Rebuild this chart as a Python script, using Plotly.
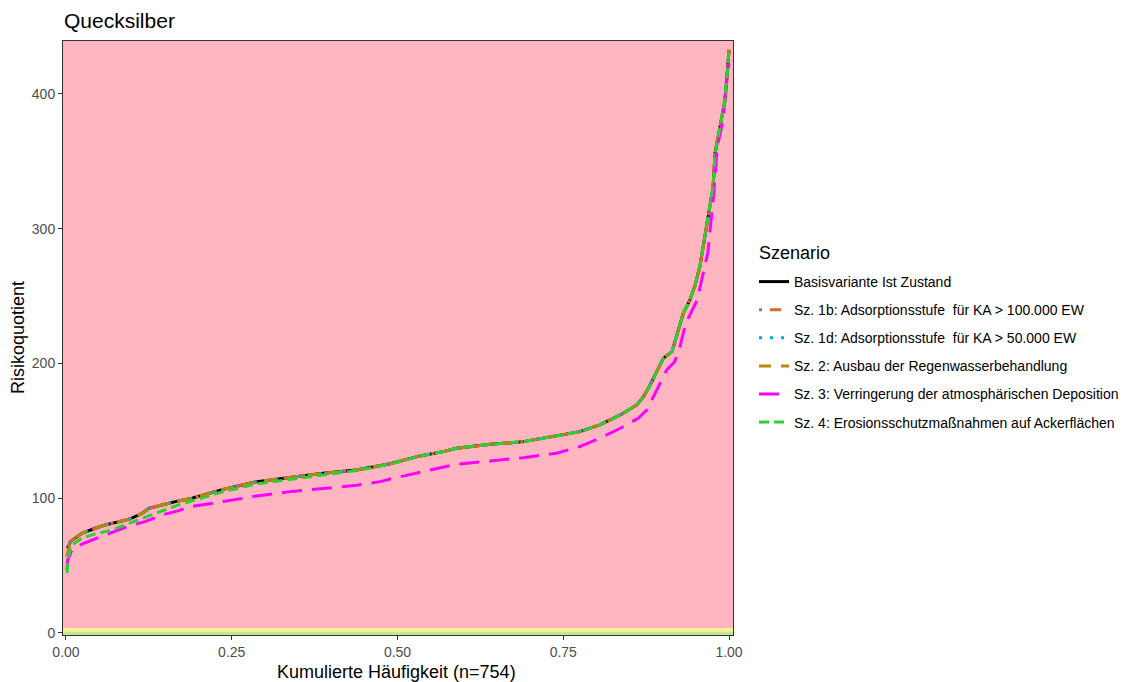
import plotly.graph_objects as go

# ---- data (x = cumulative frequency, y = risk quotient) ----
x_main = [0.0015, 0.004, 0.0065, 0.014, 0.024, 0.044, 0.059, 0.074, 0.095, 0.115, 0.125,
          0.145, 0.165, 0.19, 0.237, 0.288, 0.338, 0.388, 0.438, 0.489, 0.534, 0.569, 0.589,
          0.64, 0.69, 0.74, 0.775, 0.805, 0.836, 0.861, 0.871, 0.881, 0.891, 0.901, 0.914,
          0.924, 0.931, 0.941, 0.949, 0.956, 0.961, 0.966, 0.971, 0.976, 0.979, 0.984, 0.989,
          0.994, 0.9965, 1.0]
basis = [63, 64, 67.8, 70.3, 74, 77.7, 80.1, 81.9, 84.4, 88.8, 92.5,
         95, 97.5, 100, 106.6, 112.3, 115.5, 118.5, 121, 125.6, 131.4, 134.6, 137.1,
         140, 142, 146.2, 149.4, 154.4, 161.8, 169.2, 175.4, 184, 194, 203.9, 208.8,
         224.9, 237.2, 247.1, 258.3, 271.8, 286.7, 301.5, 316.4, 331.2, 356, 368.3, 382,
         395.5, 410.4, 432.7]
sz1b = [56.6, 64, 67.8, 70.3, 74, 77.7, 80.1, 81.9, 84.4, 88.8, 92.5,
        95, 97.5, 100, 106.6, 112.3, 115.5, 118.5, 121, 125.6, 131.4, 134.6, 137.1,
        140, 142, 146.2, 149.4, 154.4, 161.8, 169.2, 175.4, 184, 194, 203.9, 208.8,
        224.9, 237.2, 247.1, 258.3, 271.8, 286.7, 301.5, 316.4, 331.2, 356, 368.3, 382,
        395.5, 410.4, 432.7]
sz1d = [57, 64, 67.8, 70.3, 74, 77.7, 80.1, 81.9, 84.4, 88.8, 92.5,
        95, 97.5, 100, 106.6, 112.3, 115.5, 118.5, 121, 125.6, 131.4, 134.6, 137.1,
        140, 142, 146.2, 149.4, 154.4, 161.8, 169.2, 175.4, 184, 194, 203.9, 208.8,
        224.9, 237.2, 247.1, 258.3, 271.8, 286.7, 301.5, 316.4, 331.2, 356, 368.3, 382,
        395.5, 410.4, 432.7]
sz2 = [57, 64, 67.8, 70.3, 74, 77.7, 80.1, 81.9, 84.4, 88.8, 92.5,
       95, 97.5, 100, 106.6, 112.3, 115.5, 118.5, 121, 125.6, 131.4, 134.6, 137.1,
       140, 142, 146.2, 149.4, 154.4, 161.8, 169.2, 175.4, 184, 194, 203.9, 208.8,
       224.9, 237.2, 247.1, 258.3, 271.8, 286.7, 301.5, 316.4, 331.2, 356, 368.3, 382,
       395.5, 410.4, 432.7]

x_sz3 = [0.0015, 0.0025, 0.009, 0.024, 0.044, 0.069, 0.095, 0.119, 0.145, 0.17, 0.187,
         0.237, 0.288, 0.338, 0.388, 0.438, 0.474, 0.489, 0.538, 0.589, 0.64, 0.69, 0.74,
         0.775, 0.805, 0.836, 0.863, 0.876, 0.886, 0.896, 0.906, 0.918, 0.926, 0.935,
         0.952, 0.956, 0.968, 0.977, 0.982, 0.991, 0.997, 1.0]
sz3 = [46.8, 54, 61.6, 66, 69.8, 74.5, 79.4, 82.6, 87.6, 90.8, 93.7,
       97.5, 101.7, 104.9, 107.4, 109.6, 112.3, 114.3, 119.7, 125.2, 127.6, 130.1, 133.4,
       138.3, 144.5, 151.9, 159.3, 165.5, 175.4, 185.3, 195.2, 201.3, 212.5, 230,
       247, 256, 282, 326, 360, 381, 415, 423]

x_sz4 = [0.0015, 0.004, 0.009, 0.024, 0.044, 0.069, 0.095, 0.119, 0.145, 0.17, 0.19,
         0.237, 0.288, 0.338, 0.388, 0.438, 0.489, 0.534, 0.569, 0.589,
         0.64, 0.69, 0.74, 0.775, 0.805, 0.836, 0.861, 0.871, 0.881, 0.891, 0.901, 0.914,
         0.924, 0.931, 0.941, 0.949, 0.956, 0.961, 0.966, 0.971, 0.976, 0.979, 0.984, 0.989,
         0.994, 0.9965, 1.0]
sz4 = [44.5, 57.9, 65.3, 70.3, 73.5, 76.4, 81.4, 85.9, 90.8, 95, 98,
       104.8, 110.6, 114, 117.5, 120.5, 125.3, 131.4, 134.6, 137.1,
       140, 142, 146.2, 149.4, 154.4, 161.8, 169.2, 175.4, 184, 194, 203.9, 208.8,
       224.9, 237.2, 247.1, 258.3, 271.8, 286.7, 301.5, 316.4, 331.2, 356, 368.3, 382,
       395.5, 410.4, 432.7]

names = ["Basisvariante Ist Zustand",
         "Sz. 1b: Adsorptionsstufe  für KA > 100.000 EW",
         "Sz. 1d: Adsorptionsstufe  für KA > 50.000 EW",
         "Sz. 2: Ausbau der Regenwasserbehandlung",
         "Sz. 3: Verringerung der atmosphärischen Deposition",
         "Sz. 4: Erosionsschutzmaßnahmen auf Ackerflächen"]
colors = ["#000000", "#D9692A", "#00A9E0", "#B8860B", "#FF00FF", "#32CD32"]
dashes = ["solid", "3px,8px,11px,8px", "3px,8px", "12px,10px", "20px,10px", "10px,5px"]

x_ticks = [0, 0.25, 0.5, 0.75, 1.0]
x_ticklabels = ["0.00", "0.25", "0.50", "0.75", "1.00"]
y_ticks = [0, 100, 200, 300, 400]

series = [(x_main, basis), (x_main, sz1b), (x_main, sz1d), (x_main, sz2),
          (x_sz3, sz3), (x_sz4, sz4)]

fig = go.Figure()
for i, ((xs, ys), nm, col, ds) in enumerate(zip(series, names, colors, dashes)):
    fig.add_trace(go.Scatter(x=xs, y=ys, mode="lines", name=nm,
                             legendgroup=f"g{i}",
                             line=dict(color=col, width=3, dash=ds)))

# background bands
fig.add_shape(type="rect", xref="paper", yref="y", x0=0, x1=1, y0=-10, y1=1,
              fillcolor="#BDEA92", line_width=0, layer="below")
fig.add_shape(type="rect", xref="paper", yref="y", x0=0, x1=1, y0=1, y1=3.8,
              fillcolor="#F6F294", line_width=0, layer="below")
fig.add_shape(type="rect", xref="paper", yref="y", x0=0, x1=1, y0=3.8, y1=1000,
              fillcolor="#FFB6C1", line_width=0, layer="below")

font_family = "Liberation Sans, Arial, sans-serif"
PW, PH = 670, 594  # plot area size in px
L, T = 63, 41

fig.update_layout(
    width=1128, height=682,
    margin=dict(l=L, r=1128 - L - PW, t=T, b=682 - T - PH, autoexpand=False),
    paper_bgcolor="white", plot_bgcolor="#FFB6C1",
    font=dict(family=font_family, color="black"),
    title=dict(text="Quecksilber", x=64/1128, xref="container", xanchor="left",
               y=1 - 21/682, yref="container", yanchor="middle",
               font=dict(size=21, color="black")),
    xaxis=dict(range=[-0.0045, 1.006], tickvals=x_ticks, ticktext=x_ticklabels,
               showgrid=False, zeroline=False, showline=True, mirror=True,
               linecolor="#333333", linewidth=1, ticks="outside", ticklen=4,
               tickcolor="#333333", tickfont=dict(size=14, color="#4D4D4D")),
    yaxis=dict(range=[-1.5, 439.3], tickvals=y_ticks,
               showgrid=False, zeroline=False, showline=True, mirror=True,
               linecolor="#333333", linewidth=1, ticks="outside", ticklen=4,
               tickcolor="#333333", tickfont=dict(size=14, color="#4D4D4D")),
    legend=dict(font=dict(size=14, color="black"),
                x=(754 - L) / PW, xanchor="left", y=1 - (266 - T) / PH, yanchor="top",
                traceorder="grouped", tracegroupgap=6.9,
                bgcolor="rgba(0,0,0,0)"),
    showlegend=True,
)

fig.add_annotation(text="Szenario", xref="paper", yref="paper",
                   x=(757 - L) / PW, y=1 - (253 - T) / PH, showarrow=False,
                   font=dict(size=18, color="black"), xanchor="left", yanchor="middle")
fig.add_annotation(text="Risikoquotient", xref="paper", yref="paper",
                   x=(18 - L) / PW, y=1 - (338 - T) / PH, textangle=-90,
                   showarrow=False, font=dict(size=18, color="black"),
                   xanchor="center", yanchor="middle")
fig.add_annotation(text="Kumulierte Häufigkeit (n=754)", xref="paper", yref="paper",
                   x=(396.5 - L) / PW, y=1 - (672 - T) / PH,
                   showarrow=False, font=dict(size=18, color="black"),
                   xanchor="center", yanchor="middle")

fig.write_html("out.html", config={"displayModeBar": False},
               post_script="document.body.style.margin='0';")
